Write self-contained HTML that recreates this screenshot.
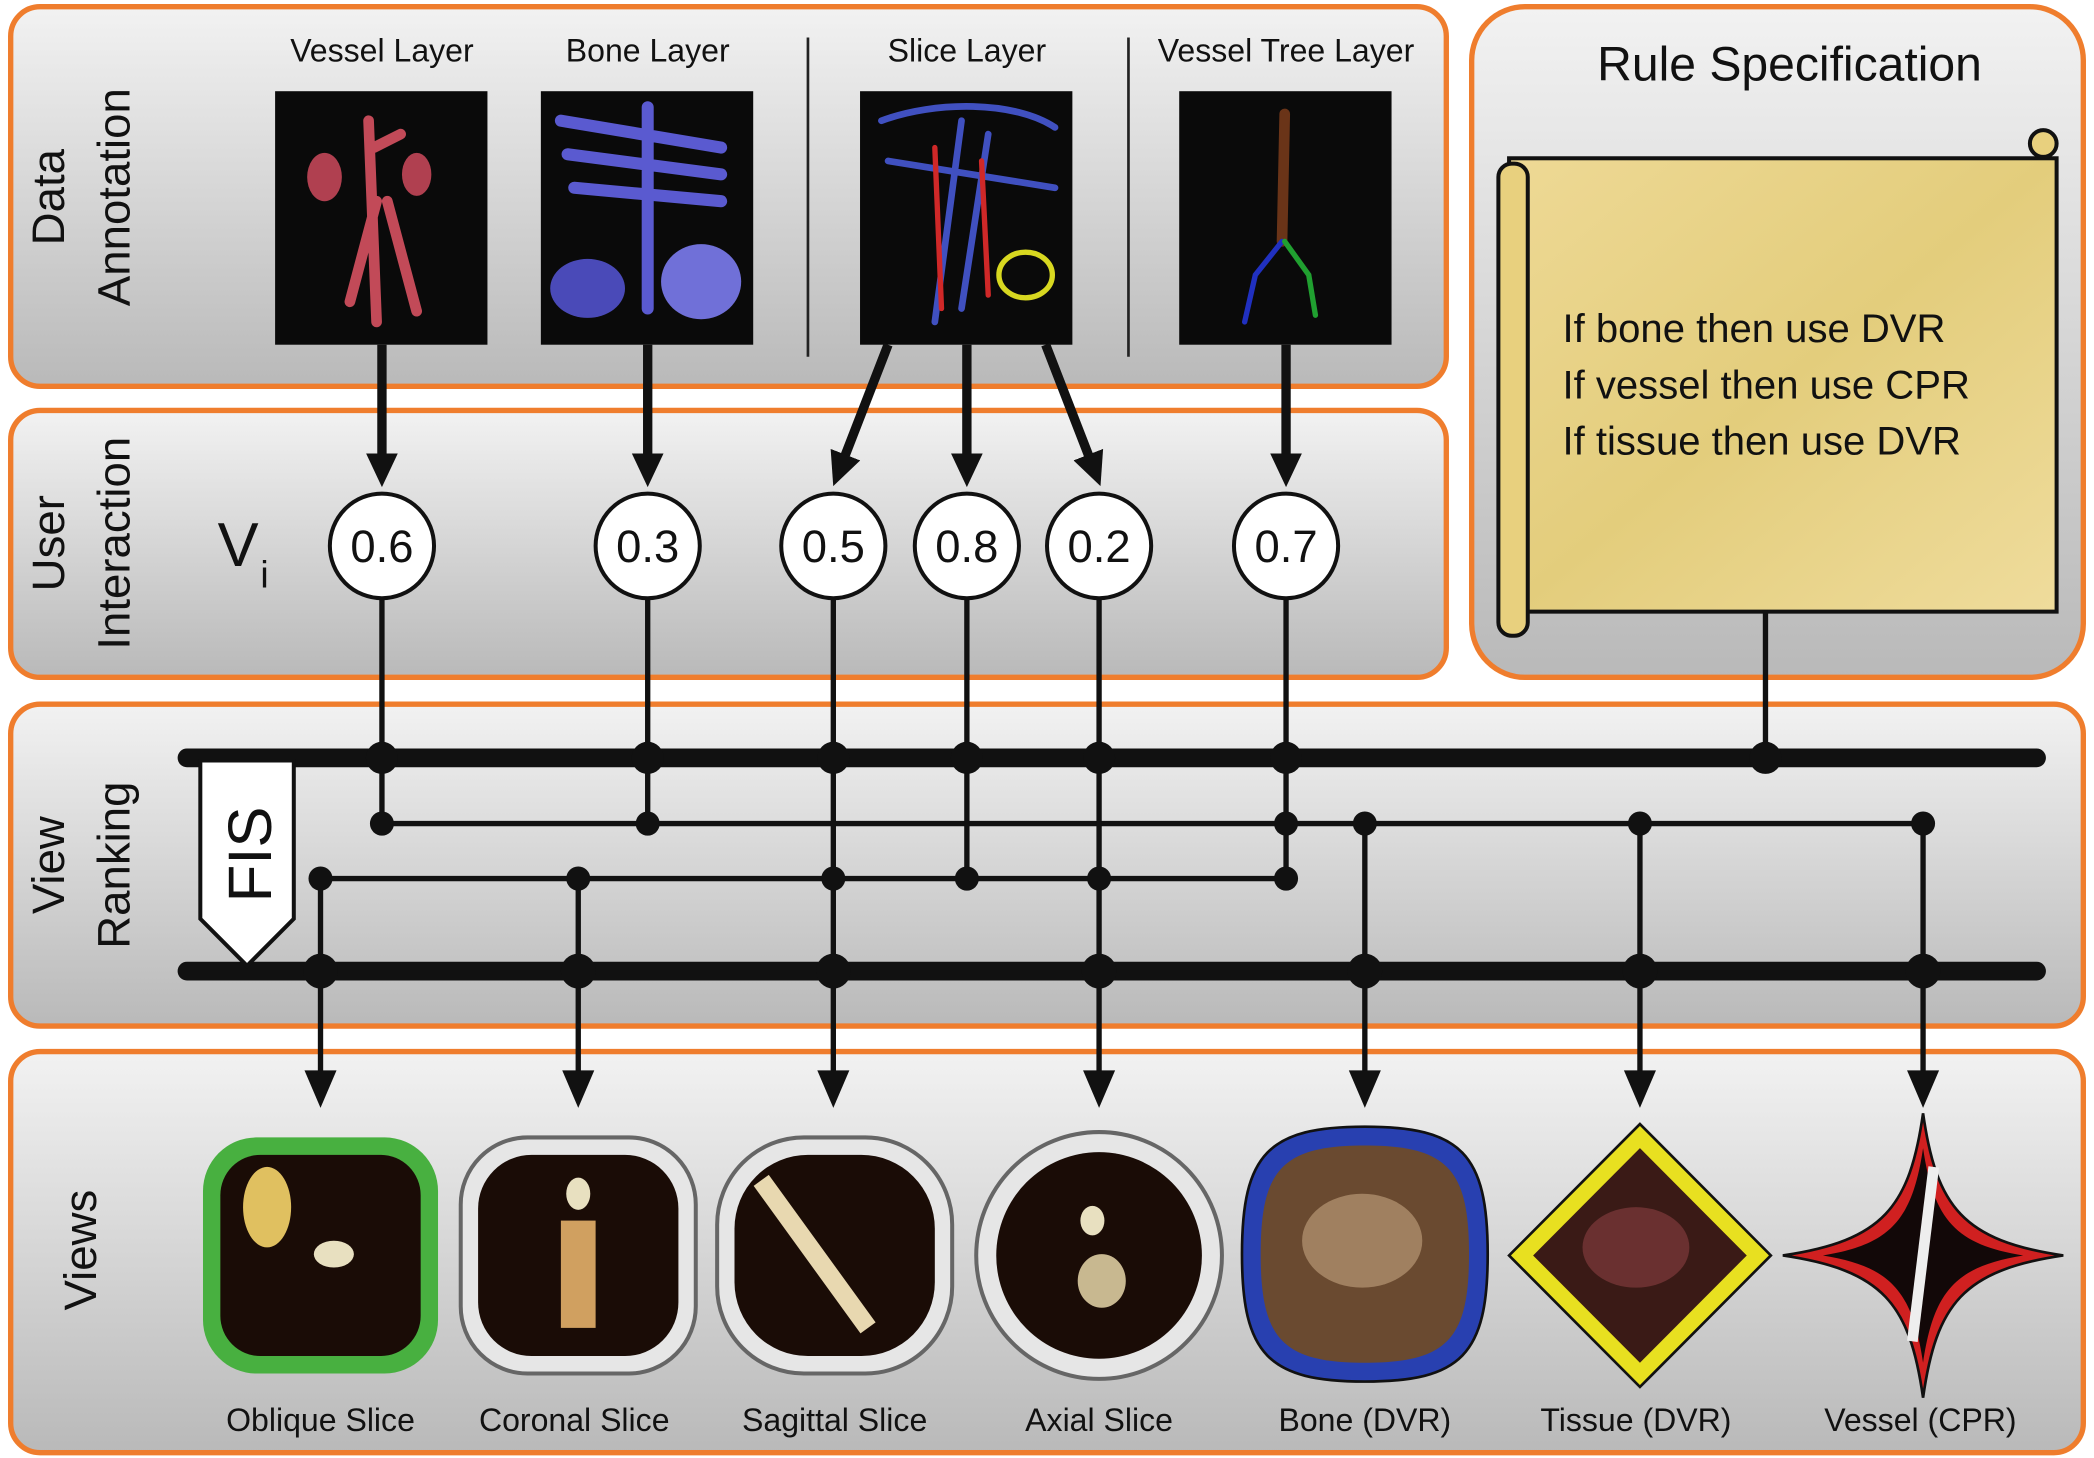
<!DOCTYPE html>
<html><head><meta charset="utf-8"><style>
html,body{margin:0;padding:0;background:#fff}
svg{display:block}
text{font-family:"Liberation Sans","DejaVu Sans",sans-serif}
</style></head><body>
<svg width="2094" height="1458" viewBox="0 0 1568 1087" preserveAspectRatio="none" xmlns="http://www.w3.org/2000/svg">
<defs>
<linearGradient id="g" x1="0" y1="0" x2="0" y2="1"><stop offset="0" stop-color="#f2f2f2"/><stop offset="1" stop-color="#b9b9b9"/></linearGradient>
<linearGradient id="p" x1="0" y1="0" x2="1" y2="1"><stop offset="0" stop-color="#eed995"/><stop offset="0.5" stop-color="#e3cd7c"/><stop offset="1" stop-color="#efdc9c"/></linearGradient>
<marker id="a" markerWidth="4" markerHeight="4" refX="2" refY="2" orient="auto" markerUnits="strokeWidth"><path d="M0,0.3 L3.6,2 L0,3.7 z" fill="#111"/></marker>
</defs>
<rect width="1568" height="1087" fill="#fff"/>
<g stroke="#ef7d2d" stroke-width="4" fill="url(#g)">
<rect x="8" y="5" width="1075" height="283" rx="22"/>
<rect x="8" y="306" width="1075" height="199" rx="22"/>
<rect x="1102" y="5" width="458" height="500" rx="40"/>
<rect x="8" y="525" width="1552" height="240" rx="22"/>
<rect x="8" y="784" width="1552" height="299" rx="22"/>
</g>
<!-- side labels -->
<g font-size="34" fill="#111" text-anchor="middle">
<text transform="translate(48,147) rotate(-90)">Data</text>
<text transform="translate(97,147) rotate(-90)">Annotation</text>
<text transform="translate(48,405) rotate(-90)">User</text>
<text transform="translate(97,405) rotate(-90)">Interaction</text>
<text transform="translate(48,645) rotate(-90)">View</text>
<text transform="translate(97,645) rotate(-90)">Ranking</text>
<text transform="translate(72,932) rotate(-90)">Views</text>
</g>
<!-- header labels -->
<g font-size="24" fill="#111" text-anchor="middle">
<text x="286" y="46">Vessel Layer</text>
<text x="485" y="46">Bone Layer</text>
<text x="724" y="46">Slice Layer</text>
<text x="963" y="46">Vessel Tree Layer</text>
</g>
<line x1="605" y1="28" x2="605" y2="266" stroke="#222" stroke-width="2"/>
<line x1="845" y1="28" x2="845" y2="266" stroke="#222" stroke-width="2"/>
<g fill="#0a0a0a">
<rect x="206" y="68" width="159" height="189"/>
<rect x="405" y="68" width="159" height="189"/>
<rect x="644" y="68" width="159" height="189"/>
<rect x="883" y="68" width="159" height="189"/>
</g>
<g fill="none" stroke-linecap="round">
<path d="M276,90 L282,240 M282,150 L262,225 M290,150 L312,232 M280,110 L300,100" stroke="#c24a58" stroke-width="8"/>
<ellipse cx="243" cy="132" rx="13" ry="18" fill="#b04050" stroke="none"/>
<ellipse cx="312" cy="130" rx="11" ry="16" fill="#b04050" stroke="none"/>
<path d="M420,90 L540,110 M425,115 L540,130 M430,140 L540,150 M485,80 L485,230" stroke="#5a5ad0" stroke-width="9"/>
<ellipse cx="440" cy="215" rx="28" ry="22" fill="#4a4ab8" stroke="none"/>
<ellipse cx="525" cy="210" rx="30" ry="28" fill="#7070d8" stroke="none"/>
<path d="M660,90 C700,75 760,75 790,95 M665,120 L790,140 M720,90 L700,240 M740,100 L720,230" stroke="#4050c0" stroke-width="5"/>
<path d="M700,110 L705,230 M735,120 L740,220" stroke="#d02828" stroke-width="4"/>
<ellipse cx="768" cy="205" rx="20" ry="17" stroke="#d8d820" stroke-width="4"/>
<path d="M962,85 L960,180" stroke="#6a3418" stroke-width="8"/>
<path d="M960,180 L940,205 L932,240" stroke="#2030c0" stroke-width="4"/>
<path d="M962,180 L980,205 L985,235" stroke="#20a030" stroke-width="4"/>
</g>
<!-- Rule spec -->
<text x="1340" y="60" font-size="36" text-anchor="middle" fill="#111">Rule Specification</text>
<rect x="1130" y="118" width="410" height="338" fill="url(#p)" stroke="#111" stroke-width="3"/>
<rect x="1122" y="122" width="22" height="352" rx="10" fill="#e8d07e" stroke="#111" stroke-width="3"/>
<circle cx="1530" cy="107" r="10" fill="#e8d07e" stroke="#111" stroke-width="3"/>
<g font-size="30" fill="#111">
<text x="1170" y="255">If bone then use DVR</text>
<text x="1170" y="297">If vessel then use CPR</text>
<text x="1170" y="339">If tissue then use DVR</text>
</g>
<!-- connectors from images to circles -->
<g stroke="#111" stroke-width="7" marker-end="url(#a)">
<line x1="286" y1="257" x2="286" y2="352"/>
<line x1="485" y1="257" x2="485" y2="352"/>
<line x1="665" y1="257" x2="628" y2="352"/>
<line x1="724" y1="257" x2="724" y2="352"/>
<line x1="783" y1="257" x2="820" y2="352"/>
<line x1="963" y1="257" x2="963" y2="352"/>
</g>
<text x="163" y="422" font-size="46" fill="#111">V</text><text x="195" y="438" font-size="28" fill="#111">i</text>
<!-- buses -->
<line x1="140" y1="565" x2="1525" y2="565" stroke="#111" stroke-width="14" stroke-linecap="round"/>
<line x1="140" y1="724" x2="1525" y2="724" stroke="#111" stroke-width="14" stroke-linecap="round"/>
<g stroke="#111" stroke-width="4" fill="none">
<polyline points="286,446 286,614 1440,614"/>
<line x1="485" y1="446" x2="485" y2="614"/>
<polyline points="240,800 240,655 963,655 963,446"/>
<polyline points="724,446 724,655"/>
<line x1="433" y1="655" x2="433" y2="800"/>
<line x1="624" y1="446" x2="624" y2="800"/>
<line x1="823" y1="446" x2="823" y2="800"/>
<line x1="1322" y1="455" x2="1322" y2="565"/>
<line x1="1022" y1="614" x2="1022" y2="800"/>
<line x1="1228" y1="614" x2="1228" y2="800"/>
<line x1="1440" y1="614" x2="1440" y2="800"/>
</g>
<g fill="#111">
<path d="M228,798 L252,798 L240,826 Z"/><path d="M421,798 L445,798 L433,826 Z"/><path d="M612,798 L636,798 L624,826 Z"/><path d="M811,798 L835,798 L823,826 Z"/><path d="M1010,798 L1034,798 L1022,826 Z"/><path d="M1216,798 L1240,798 L1228,826 Z"/><path d="M1428,798 L1452,798 L1440,826 Z"/>
<circle cx="286" cy="565" r="12"/><circle cx="485" cy="565" r="12"/><circle cx="624" cy="565" r="12"/><circle cx="724" cy="565" r="12"/><circle cx="823" cy="565" r="12"/><circle cx="963" cy="565" r="12"/><circle cx="1322" cy="565" r="12"/>
<circle cx="286" cy="614" r="9"/><circle cx="485" cy="614" r="9"/><circle cx="963" cy="614" r="9"/><circle cx="1022" cy="614" r="9"/><circle cx="1228" cy="614" r="9"/><circle cx="1440" cy="614" r="9"/>
<circle cx="240" cy="655" r="9"/><circle cx="433" cy="655" r="9"/><circle cx="624" cy="655" r="9"/><circle cx="724" cy="655" r="9"/><circle cx="823" cy="655" r="9"/><circle cx="963" cy="655" r="9"/>
<circle cx="240" cy="724" r="13"/><circle cx="433" cy="724" r="13"/><circle cx="624" cy="724" r="13"/><circle cx="823" cy="724" r="13"/><circle cx="1022" cy="724" r="13"/><circle cx="1228" cy="724" r="13"/><circle cx="1440" cy="724" r="13"/>
</g>
<!-- circles -->
<g fill="#fff" stroke="#111" stroke-width="3">
<circle cx="286" cy="407" r="39"/><circle cx="485" cy="407" r="39"/><circle cx="624" cy="407" r="39"/><circle cx="724" cy="407" r="39"/><circle cx="823" cy="407" r="39"/><circle cx="963" cy="407" r="39"/>
</g>
<g font-size="34" fill="#111" text-anchor="middle">
<text x="286" y="419">0.6</text><text x="485" y="419">0.3</text><text x="624" y="419">0.5</text><text x="724" y="419">0.8</text><text x="823" y="419">0.2</text><text x="963" y="419">0.7</text>
</g>
<!-- FIS -->
<path d="M150,567 L220,567 L220,685 L185,720 L150,685 Z" fill="#fff" stroke="#111" stroke-width="3"/>
<text transform="translate(203,637) rotate(-90)" font-size="46" text-anchor="middle" fill="#111">FIS</text>
<!-- views -->
<rect x="152" y="848" width="176" height="176" rx="40" fill="#48b040"/>
<rect x="165" y="861" width="150" height="150" rx="30" fill="#1a0c06"/>
<rect x="345" y="848" width="176" height="176" rx="50" fill="#e6e6e6" stroke="#666" stroke-width="3"/>
<rect x="358" y="861" width="150" height="150" rx="40" fill="#1a0c06"/>
<rect x="537" y="848" width="176" height="176" rx="65" fill="#e6e6e6" stroke="#666" stroke-width="3"/>
<rect x="550" y="861" width="150" height="150" rx="55" fill="#1a0c06"/>
<circle cx="823" cy="936" r="92" fill="#e6e6e6" stroke="#666" stroke-width="3"/>
<circle cx="823" cy="936" r="77" fill="#1a0c06"/>
<path d="M930,935 C930,860 950,840 1022,840 C1094,840 1114,860 1114,935 C1114,1010 1094,1030 1022,1030 C950,1030 930,1010 930,935 Z" fill="#2840b0" stroke="#111" stroke-width="2"/>
<path d="M944,935 C944,872 960,854 1022,854 C1084,854 1100,872 1100,935 C1100,998 1084,1016 1022,1016 C960,1016 944,998 944,935 Z" fill="#6a4a30"/>
<path d="M1228,838 L1326,936 L1228,1034 L1130,936 Z" fill="#e8e020" stroke="#111" stroke-width="2"/>
<path d="M1228,856 L1308,936 L1228,1016 L1148,936 Z" fill="#3a1a16"/>
<path d="M1440,830 C1450,900 1470,925 1545,936 C1470,947 1450,972 1440,1042 C1430,972 1410,947 1335,936 C1410,925 1430,900 1440,830 Z" fill="#d02020" stroke="#111" stroke-width="2"/>
<path d="M1440,856 C1448,910 1465,928 1515,936 C1465,944 1448,962 1440,1016 C1432,962 1415,944 1365,936 C1415,928 1432,910 1440,856 Z" fill="#120808"/>
<path d="M1448,870 L1432,1000" stroke="#eee" stroke-width="8"/>
<g fill="#e8e0c0">
<ellipse cx="200" cy="900" rx="18" ry="30" fill="#e0c060"/><ellipse cx="250" cy="935" rx="15" ry="10"/>
<ellipse cx="433" cy="890" rx="9" ry="12"/><rect x="420" y="910" width="26" height="80" fill="#d0a060"/>
<path d="M570,880 L650,990" stroke="#e8d8b0" stroke-width="14"/>
<ellipse cx="818" cy="910" rx="9" ry="11"/><ellipse cx="825" cy="955" rx="18" ry="20" fill="#c8b890"/>
<ellipse cx="1020" cy="925" rx="45" ry="35" fill="#a08060"/>
<ellipse cx="1225" cy="930" rx="40" ry="30" fill="#6a3030"/>
</g>
<g font-size="24" fill="#111" text-anchor="middle">
<text x="240" y="1067">Oblique Slice</text><text x="430" y="1067">Coronal Slice</text><text x="625" y="1067">Sagittal Slice</text><text x="823" y="1067">Axial Slice</text><text x="1022" y="1067">Bone (DVR)</text><text x="1225" y="1067">Tissue (DVR)</text><text x="1438" y="1067">Vessel (CPR)</text>
</g>
</svg>
</body></html>
